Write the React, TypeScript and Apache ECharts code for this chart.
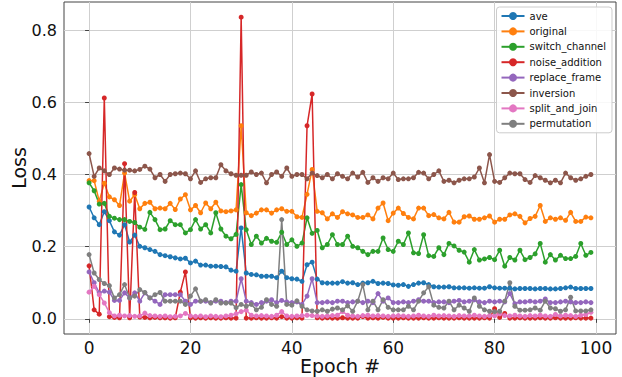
import React, { useEffect, useRef } from "react";
import * as echarts from "echarts";

const seriesNames = [
  "ave",
  "original",
  "switch_channel",
  "noise_addition",
  "replace_frame",
  "inversion",
  "split_and_join",
  "permutation",
];

const colors = ["#1f77b4", "#ff7f0e", "#2ca02c", "#d62728", "#9467bd", "#8c564b", "#e377c2", "#7f7f7f"];

const xTicks = [0, 20, 40, 60, 80, 100];
const yTicks = [0, 0.2, 0.4, 0.6, 0.8];

const ave = [
  0.31, 0.28, 0.261, 0.297, 0.272, 0.241, 0.232, 0.261, 0.213, 0.232,
  0.201, 0.197, 0.192, 0.187, 0.178, 0.175, 0.172, 0.169, 0.166, 0.168,
  0.155, 0.16, 0.149, 0.149, 0.146, 0.146, 0.145, 0.144, 0.135, 0.132,
  0.252, 0.127, 0.123, 0.122, 0.118, 0.118, 0.118, 0.114, 0.132, 0.114,
  0.111, 0.11, 0.104, 0.15, 0.157, 0.11, 0.1, 0.099, 0.099, 0.099,
  0.103, 0.099, 0.1, 0.095, 0.099, 0.1, 0.104, 0.098, 0.099, 0.098,
  0.094, 0.093, 0.095, 0.09, 0.095, 0.099, 0.1, 0.095, 0.089, 0.088,
  0.088, 0.089, 0.086, 0.086, 0.086, 0.085, 0.086, 0.085, 0.085, 0.089,
  0.086, 0.085, 0.085, 0.085, 0.083, 0.084, 0.084, 0.084, 0.083, 0.084,
  0.084, 0.083, 0.083, 0.084, 0.086, 0.088, 0.084, 0.084, 0.084, 0.084,
];

const original = [
  0.383, 0.383, 0.326, 0.376, 0.338, 0.33, 0.314, 0.404, 0.326, 0.344,
  0.305, 0.32, 0.323, 0.305, 0.307, 0.305, 0.32, 0.303, 0.332, 0.344,
  0.302, 0.314, 0.294, 0.321, 0.305, 0.323, 0.299, 0.297, 0.299, 0.302,
  0.535, 0.294, 0.286, 0.293, 0.302, 0.302, 0.293, 0.302, 0.305, 0.298,
  0.298, 0.283, 0.281, 0.345, 0.414, 0.298, 0.294, 0.277, 0.291, 0.281,
  0.297, 0.291, 0.288, 0.281, 0.281, 0.288, 0.277, 0.307, 0.321, 0.272,
  0.293, 0.307, 0.292, 0.281, 0.277, 0.307, 0.307, 0.286, 0.289, 0.28,
  0.277, 0.295, 0.268, 0.268, 0.283, 0.285, 0.276, 0.276, 0.28, 0.285,
  0.268, 0.276, 0.276, 0.288, 0.291, 0.284, 0.266, 0.278, 0.284, 0.314,
  0.27, 0.28, 0.276, 0.28, 0.273, 0.295, 0.27, 0.27, 0.282, 0.28,
];

const switchChannel = [
  0.377, 0.355, 0.318, 0.32, 0.284, 0.279, 0.275, 0.275, 0.27, 0.267,
  0.254, 0.248, 0.295, 0.275, 0.247, 0.249, 0.272, 0.261, 0.261, 0.238,
  0.247, 0.275, 0.249, 0.261, 0.238, 0.294, 0.249, 0.229, 0.222, 0.234,
  0.372, 0.247, 0.206, 0.229, 0.21, 0.223, 0.215, 0.212, 0.24, 0.206,
  0.219, 0.201, 0.21, 0.28, 0.237, 0.245, 0.197, 0.206, 0.233, 0.206,
  0.206, 0.229, 0.201, 0.197, 0.187, 0.178, 0.187, 0.187, 0.224, 0.192,
  0.187, 0.215, 0.206, 0.238, 0.183, 0.181, 0.233, 0.175, 0.173, 0.197,
  0.178, 0.209, 0.202, 0.19, 0.185, 0.157, 0.192, 0.163, 0.166, 0.17,
  0.164, 0.19, 0.146, 0.17, 0.163, 0.19, 0.164, 0.17, 0.18, 0.209,
  0.157, 0.178, 0.163, 0.176, 0.167, 0.167, 0.173, 0.209, 0.176, 0.184,
];

const noiseAddition = [
  0.147, 0.025, 0.013, 0.612, 0.006, 0.004, 0.003, 0.43, 0.003, 0.35,
  0.005, 0.004, 0.003, 0.004, 0.003, 0.003, 0.002, 0.003, 0.074, 0.13,
  0.003, 0.002, 0.003, 0.002, 0.003, 0.002, 0.002, 0.003, 0.002, 0.002,
  0.836, 0.002, 0.002, 0.003, 0.002, 0.002, 0.003, 0.002, 0.006, 0.002,
  0.002, 0.003, 0.002, 0.535, 0.623, 0.003, 0.002, 0.003, 0.002, 0.002,
  0.003, 0.002, 0.002, 0.002, 0.006, 0.002, 0.003, 0.002, 0.004, 0.002,
  0.002, 0.002, 0.003, 0.002, 0.002, 0.002, 0.003, 0.002, 0.002, 0.003,
  0.002, 0.002, 0.002, 0.003, 0.002, 0.002, 0.002, 0.002, 0.003, 0.002,
  0.028, 0.004, 0.015, 0.002, 0.002, 0.003, 0.002, 0.002, 0.002, 0.003,
  0.002, 0.002, 0.003, 0.002, 0.002, 0.002, 0.003, 0.002, 0.002, 0.002,
];

const replaceFrame = [
  0.13, 0.1, 0.072, 0.077, 0.074, 0.051, 0.051, 0.072, 0.058, 0.072,
  0.049, 0.072, 0.058, 0.049, 0.04, 0.067, 0.067, 0.067, 0.067, 0.049,
  0.04, 0.049, 0.049, 0.049, 0.045, 0.049, 0.049, 0.045, 0.049, 0.049,
  0.111, 0.049, 0.045, 0.04, 0.045, 0.049, 0.053, 0.045, 0.051, 0.047,
  0.045, 0.047, 0.04, 0.063, 0.111, 0.045, 0.045, 0.047, 0.045, 0.049,
  0.049, 0.045, 0.047, 0.049, 0.045, 0.049, 0.045, 0.07, 0.049, 0.058,
  0.045, 0.045, 0.047, 0.045, 0.049, 0.053, 0.049, 0.049, 0.045, 0.047,
  0.047, 0.045, 0.049, 0.051, 0.047, 0.049, 0.053, 0.047, 0.045, 0.049,
  0.047, 0.049, 0.047, 0.07, 0.042, 0.047, 0.047, 0.049, 0.047, 0.049,
  0.055, 0.045, 0.045, 0.047, 0.049, 0.047, 0.045, 0.045, 0.047, 0.045,
];

const inversion = [
  0.458, 0.395, 0.418, 0.41, 0.4, 0.418, 0.415, 0.412, 0.412, 0.41,
  0.414, 0.423, 0.415, 0.391, 0.4, 0.381, 0.4, 0.402, 0.404, 0.402,
  0.388, 0.41, 0.378, 0.388, 0.391, 0.391, 0.427, 0.41, 0.402, 0.398,
  0.398, 0.398, 0.407, 0.4, 0.404, 0.377, 0.4, 0.407, 0.395, 0.418,
  0.395, 0.4, 0.4, 0.388, 0.404, 0.397, 0.391, 0.4, 0.388, 0.402,
  0.395, 0.388, 0.404, 0.393, 0.406, 0.378, 0.391, 0.381, 0.391, 0.388,
  0.404, 0.386, 0.388, 0.388, 0.391, 0.406, 0.404, 0.388, 0.4, 0.41,
  0.381, 0.384, 0.377, 0.384, 0.388, 0.388, 0.393, 0.418, 0.377, 0.455,
  0.381, 0.378, 0.391, 0.404, 0.402, 0.402, 0.386, 0.378, 0.397, 0.391,
  0.384, 0.377, 0.384, 0.377, 0.404, 0.391, 0.384, 0.388, 0.395, 0.4,
];

const splitAndJoin = [
  0.074, 0.09, 0.067, 0.044, 0.017, 0.008, 0.01, 0.008, 0.009, 0.007,
  0.008, 0.016, 0.009, 0.008, 0.007, 0.008, 0.006, 0.007, 0.008, 0.015,
  0.008, 0.007, 0.008, 0.006, 0.008, 0.007, 0.006, 0.008, 0.01, 0.014,
  0.02, 0.024, 0.01, 0.008, 0.009, 0.008, 0.007, 0.01, 0.02, 0.008,
  0.007, 0.008, 0.009, 0.01, 0.009, 0.008, 0.007, 0.008, 0.009, 0.01,
  0.02, 0.01, 0.008, 0.007, 0.009, 0.01, 0.008, 0.009, 0.008, 0.007,
  0.008, 0.009, 0.008, 0.007, 0.008, 0.01, 0.008, 0.007, 0.01, 0.008,
  0.009, 0.008, 0.007, 0.009, 0.008, 0.008, 0.01, 0.008, 0.007, 0.009,
  0.008, 0.014, 0.009, 0.008, 0.01, 0.008, 0.007, 0.009, 0.008, 0.01,
  0.008, 0.007, 0.012, 0.008, 0.01, 0.009, 0.007, 0.01, 0.012, 0.018,
];

const permutation = [
  0.178, 0.127, 0.109, 0.098, 0.092, 0.058, 0.067, 0.095, 0.058, 0.063,
  0.081, 0.073, 0.058, 0.067, 0.073, 0.049, 0.049, 0.049, 0.049, 0.04,
  0.063, 0.083, 0.049, 0.053, 0.044, 0.053, 0.044, 0.044, 0.044, 0.031,
  0.04, 0.035, 0.04, 0.025, 0.032, 0.053, 0.04, 0.035, 0.275, 0.04,
  0.038, 0.05, 0.035, 0.025, 0.022, 0.021, 0.025, 0.021, 0.027, 0.03,
  0.025, 0.036, 0.021, 0.049, 0.095, 0.025, 0.049, 0.025, 0.053, 0.032,
  0.025, 0.025, 0.025, 0.035, 0.025, 0.049, 0.072, 0.089, 0.038, 0.032,
  0.03, 0.049, 0.025, 0.038, 0.03, 0.021, 0.058, 0.035, 0.025, 0.021,
  0.02, 0.021, 0.049, 0.1, 0.035, 0.024, 0.024, 0.025, 0.03, 0.024,
  0.049, 0.03, 0.028, 0.021, 0.025, 0.06, 0.022, 0.022, 0.022, 0.025,
];

const allValues = [ave, original, switchChannel, noiseAddition, replaceFrame, inversion, splitAndJoin, permutation];

const FONT = "DejaVu Sans";

export default function App() {
  const ref = useRef<HTMLDivElement>(null);

  useEffect(() => {
    document.body.style.margin = "0";
    if (!ref.current) return;
    const chart = echarts.init(ref.current, null, { renderer: "svg" });
    const series = seriesNames.map((name, si) => ({
      name,
      type: "line",
      data: allValues[si].map((v, i) => [i, v]),
      symbol: "circle",
      symbolSize: 5,
      showSymbol: true,
      lineStyle: { color: colors[si], width: 1.5 },
      itemStyle: { color: colors[si] },
      emphasis: { disabled: true },
    }));
    chart.setOption({
      animation: false,
      color: colors,
      grid: {
        left: 64,
        right: 6,
        top: 2,
        bottom: 43,
        containLabel: false,
        outerBoundsMode: "none",
        show: true,
        borderColor: "#444",
        borderWidth: 1,
        backgroundColor: "transparent",
      },
      legend: {
        orient: "vertical",
        right: 10,
        top: 7,
        padding: [4, 6, 4, 4],
        itemWidth: 23,
        itemHeight: 10,
        itemGap: 5.4,
        backgroundColor: "rgba(255,255,255,0.85)",
        borderColor: "#cccccc",
        borderWidth: 1,
        borderRadius: 3,
        textStyle: { fontFamily: FONT, fontSize: 10, color: "#111" },
        data: seriesNames,
      },
      xAxis: {
        type: "value",
        min: -4.95,
        max: 103.95,
        name: "Epoch #",
        nameLocation: "middle",
        nameGap: 22,
        nameMoveOverlap: false,
        nameTextStyle: { fontFamily: FONT, fontSize: 19, color: "#111" },
        axisLine: { show: false },
        axisTick: { show: true, length: 4, lineStyle: { color: "#444" }, customValues: xTicks },
        axisLabel: {
          customValues: xTicks,
          fontFamily: FONT,
          fontSize: 17,
          color: "#111",
          margin: 5,
        },
        splitLine: { show: true, lineStyle: { color: "#cfcfcf", width: 1 } },
      },
      yAxis: {
        type: "value",
        min: -0.042,
        max: 0.878,
        name: "Loss",
        nameLocation: "middle",
        nameGap: 36,
        nameMoveOverlap: false,
        nameTextStyle: { fontFamily: FONT, fontSize: 19, color: "#111" },
        axisLine: { show: false },
        axisTick: { show: true, length: 4, lineStyle: { color: "#444" }, customValues: yTicks },
        axisLabel: {
          customValues: yTicks,
          fontFamily: FONT,
          fontSize: 16,
          color: "#111",
          margin: 7,
          formatter: (v: number) => v.toFixed(1),
        },
        splitLine: { show: true, lineStyle: { color: "#cfcfcf", width: 1 } },
      },
      series,
    });
    return () => chart.dispose();
  }, []);

  return <div ref={ref} style={{ width: 622, height: 377 }} />;
}
